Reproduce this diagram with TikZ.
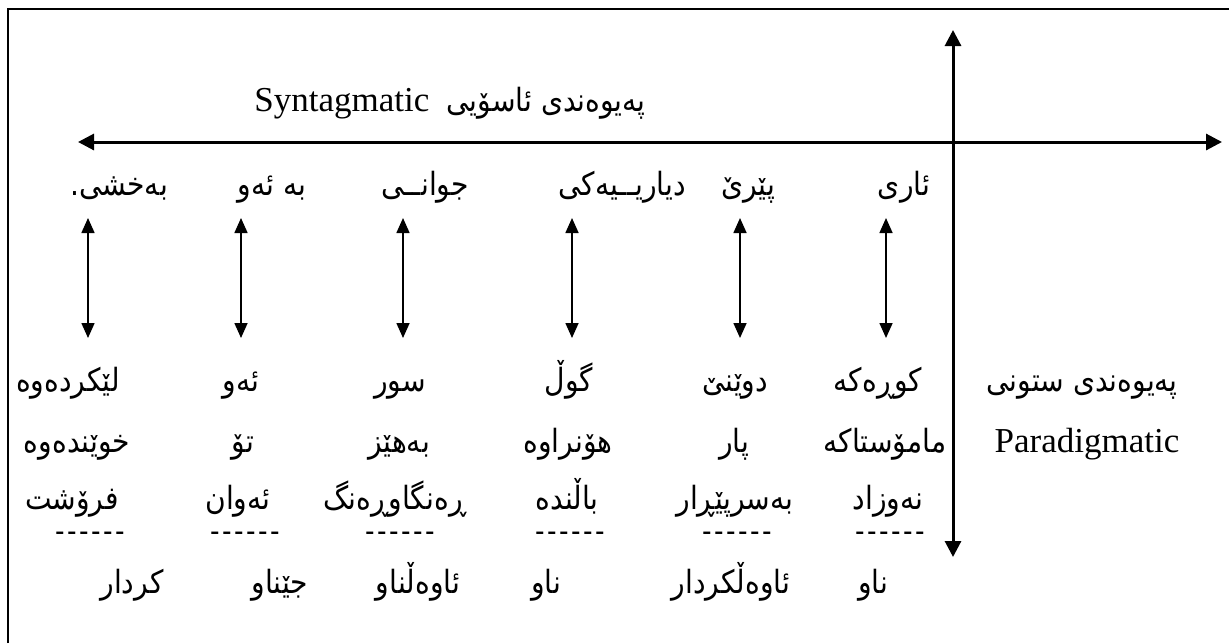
\documentclass[tikz,border=0pt]{standalone}
\usepackage{fontspec}
\setmainfont{Liberation Serif}
\newfontfamily\kufont[Script=Arabic,FakeStretch=0.88]{DejaVu Sans}
\TeXXeTstate=1
\usetikzlibrary{
  arrows.meta,
  positioning,  % base left=of
}
\newcommand{\kw}[1]{\beginR #1\endR}
\newcommand{\sixdash}{-\kern1.2pt-\kern1.2pt-\kern1.2pt-\kern1.2pt-\kern1.2pt-}
\def\rowA{195}
\def\rowB{391}
\def\rowC{452}
\def\rowD{509}
\def\rowE{593}
\tikzset{
  x=0.5pt,
  y=-0.5pt,
  frame/.style={
    line width=1.2pt
  },
  axis/.style={
    line width=1.5pt,
    {Triangle[length=8pt,width=8pt]}-{Triangle[length=8pt,width=8pt]}
  },
  swap arrow/.style={
    line width=0.8pt,
    {Triangle[length=7.5pt,width=6.5pt]}-{Triangle[length=7.5pt,width=6.5pt]}
  },
  word/.style={
    font=\fontsize{16}{19}\selectfont\kufont,
    inner sep=0pt,
    anchor=base
  },
  latin/.style={
    font=\fontsize{17.5}{20}\selectfont,
    inner sep=0pt,
    anchor=base
  },
  dashrow/.style={
    font=\fontsize{15}{18}\selectfont\kufont,
    inner sep=0pt,
    anchor=base
  }
}
\begin{document}
\begin{tikzpicture}
\useasboundingbox (0,0) rectangle (1229,643);
\draw[frame] (8,643) -- (8,9) -- (1229,9);
% the two axes
\coordinate (hl) at (78,142);
\coordinate (hr) at (1222,142);
\coordinate (vt) at (953,30);
\coordinate (vb) at (953,557);
\draw[axis] (hl) -- (hr);
\draw[axis] (vt) -- (vb);
% headings
\node[word]  (synt-ku) at (546,111) {\kw{پەیوەندی ئاسۆیی}};
\node[latin] (synt-en) [base left=8pt of synt-ku] {Syntagmatic};
\node[word]  (para-ku) at (1082,\rowB) {\kw{پەیوەندی ستونی}};
\node[latin] (para-en) at (1087,\rowC) {Paradigmatic};
% sentence
\foreach \w/\x [count=\i] in {ئاری/904,پێرێ/748,دیاریــیەکی/622,جوانــی/425,بە ئەو/272,بەخشی./119}
  \node[word] (a\i) at (\x,\rowA) {\kw{\w}};
\foreach \x [count=\i] in {886,740,572,403,241,88} {
  \coordinate (u\i) at (\x,218);
  \coordinate (d\i) at (\x,338);
  \draw[swap arrow] (u\i) -- (d\i);
}
% substitutes
\foreach \w/\x [count=\i] in {کوڕەکە/878,دوێنێ/735,گوڵ/569,سور/400,ئەو/241,لێکردەوە/68}
  \node[word] (b\i) at (\x,\rowB) {\kw{\w}};
\foreach \w/\x [count=\i] in {مامۆستاکە/885,پار/734,هۆنراوە/568,بەهێز/399,تۆ/243,خوێندەوە/77}
  \node[word] (c\i) at (\x,\rowC) {\kw{\w}};
\foreach \w/\x [count=\i] in {نەوزاد/888,بەسرپێڕار/735,باڵندە/567,ڕەنگاوڕەنگ/395,ئەوان/238,فرۆشت/72}
  \node[word] (d\i) at (\x,\rowD) {\kw{\w}};
\foreach \x [count=\i] in {890,737,570,400,245,90}
  \node[dashrow] (e\i) at (\x,541) {\sixdash};
% word classes
\foreach \w/\x [count=\i] in {ناو/873,ئاوەڵکردار/731,ناو/546,ئاوەڵناو/418,جێناو/280,کردار/132}
  \node[word] (f\i) at (\x,\rowE) {\kw{\w}};
\end{tikzpicture}
\end{document}
